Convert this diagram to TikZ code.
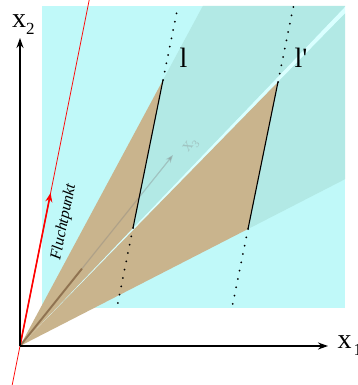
\documentclass[tikz,border=0pt]{standalone}
\usepackage{fontspec}
\setmainfont{Liberation Serif}
\usetikzlibrary{arrows.meta,calc}
\definecolor{bgcyan}{HTML}{C0F9F9}
\definecolor{tealc}{HTML}{B2E9E5}
\definecolor{tanc}{HTML}{C9B48D}
\definecolor{bandc}{HTML}{DAFFFF}
\begin{document}
\begin{tikzpicture}[x=1pt,y=-1pt,
  axis/.style={line width=1.7pt,-{Stealth[length=10pt,width=7pt]}},
  seg/.style={line width=1.1pt,black},
  dotline/.style={line width=2pt,dash pattern=on 0pt off 8.5pt,line cap=round},
  lab/.style={font=\fontsize{28}{30}\selectfont,inner sep=0pt,anchor=base west}]
\useasboundingbox (0,0) rectangle (358,385);
\fill[white] (0,0) rectangle (358,385);
\coordinate (O) at (20,346);
\coordinate (T1) at (163,80);
\coordinate (B1) at (133,228);
\coordinate (T2) at (278,82);
\coordinate (B2) at (248,229);
\coordinate (T1u) at (178,6);
\coordinate (B1d) at (116.8,308);
\coordinate (T2u) at (293.5,6);
\coordinate (B2d) at (231.9,308);
% background
\fill[bgcyan] (42,6) rectangle (345,308);
\fill[bandc] (O) -- (345,6.7) -- (345,13.5) -- cycle;
\fill[tealc] (T1) -- (202.8,6) -- (345,6) -- (345,6.7) -- (B1) -- cycle;
\fill[tealc] (T2) -- (345,13.5) -- (345,179.2) -- (B2) -- cycle;
\fill[tanc] (O) -- (T1) -- (B1) -- cycle;
\fill[tanc] (O) -- (T2) -- (B2) -- cycle;
% x3 direction
\coordinate (X3) at (173,155);
\draw[gray,opacity=0.35,line width=1.2pt,-{Stealth[length=8pt,width=6pt]}] (O) -- (X3);
\draw[brown!60!black,opacity=0.55,line width=2pt] (O) -- ($(O)!0.405!(X3)$);
\node[rotate=51,text=gray,text opacity=0.35,font=\fontsize{18}{20}\selectfont,inner sep=0pt] (lx3) at (191,146) {x\raisebox{-4pt}{\fontsize{11}{11}\selectfont 3}};
% lines l and l'
\draw[seg] (B1) -- (T1);
\draw[seg] (B2) -- (T2);
\draw[dotline] (T1) -- (T1u);
\draw[dotline] (B1) -- (B1d);
\draw[dotline] (T2) -- (T2u);
\draw[dotline] (B2) -- (B2d);
% red
\coordinate (RB) at (12.2,385);
\coordinate (RT) at (89.2,0);
\coordinate (F) at (50.6,193);
\draw[red,line width=0.7pt] (RB) -- (RT);
\draw[red,line width=1.6pt,-{Stealth[length=9pt,width=7pt]}] (O) -- (F);
\node[rotate=78.7,font=\itshape\fontsize{16}{18}\selectfont,inner sep=0pt] (lf) at (64,222) {Fluchtpunkt};
% axes
\coordinate (Y) at (20,38);
\coordinate (X) at (328,346);
\draw[axis] (O) -- (Y);
\draw[axis] (O) -- (X);
\node[lab] (lx2) at (12,28) {x\raisebox{-7pt}{\fontsize{17}{17}\selectfont 2}};
\node[lab] (lx1) at (337.5,348) {x\hspace{2pt}\raisebox{-7pt}{\fontsize{17}{17}\selectfont 1}};
\node[lab] (ll) at (179.5,68) {l};
\node[lab] (llp) at (294.5,68) {l\textquotesingle};
\end{tikzpicture}
\end{document}
